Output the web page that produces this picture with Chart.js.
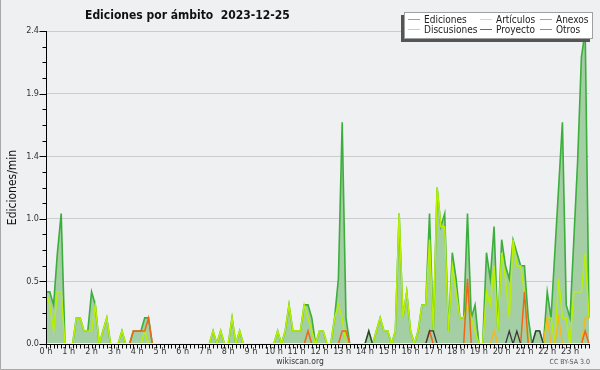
<!DOCTYPE html>
<html>
<head>
<meta charset="utf-8">
<script src="https://cdn.jsdelivr.net/npm/chart.js@4.4.1/dist/chart.umd.min.js"></script>
<style>
html,body{margin:0;padding:0;background:#eff0f2;}
canvas{display:block;}
</style>
</head>
<body>
<canvas id="c" width="600" height="370"></canvas>
<script>
const FONT = '"DejaVu Sans Condensed", "DejaVu Sans", sans-serif';
const chartTitle = 'Ediciones por ámbito  2023-12-25';
const yAxisTitle = 'Ediciones/min';
const sourceText = 'wikiscan.org';
const licenseText = 'CC BY-SA 3.0';

const times = [
'0:00','0:10','0:20','0:30','0:40','0:50','1:00','1:10','1:20','1:30','1:40','1:50',
'2:00','2:10','2:20','2:30','2:40','2:50','3:00','3:10','3:20','3:30','3:40','3:50',
'4:00','4:10','4:20','4:30','4:40','4:50','5:00','5:10','5:20','5:30','5:40','5:50',
'6:00','6:10','6:20','6:30','6:40','6:50','7:00','7:10','7:20','7:30','7:40','7:50',
'8:00','8:10','8:20','8:30','8:40','8:50','9:00','9:10','9:20','9:30','9:40','9:50',
'10:00','10:10','10:20','10:30','10:40','10:50','11:00','11:10','11:20','11:30','11:40','11:50',
'12:00','12:10','12:20','12:30','12:40','12:50','13:00','13:10','13:20','13:30','13:40','13:50',
'14:00','14:10','14:20','14:30','14:40','14:50','15:00','15:10','15:20','15:30','15:40','15:50',
'16:00','16:10','16:20','16:30','16:40','16:50','17:00','17:10','17:20','17:30','17:40','17:50',
'18:00','18:10','18:20','18:30','18:40','18:50','19:00','19:10','19:20','19:30','19:40','19:50',
'20:00','20:10','20:20','20:30','20:40','20:50','21:00','21:10','21:20','21:30','21:40','21:50',
'22:00','22:10','22:20','22:30','22:40','22:50','23:00','23:10','23:20','23:30','23:40','23:50'
];
const xTickLabels = ['0 h','1 h','2 h','3 h','4 h','5 h','6 h','7 h','8 h','9 h','10 h','11 h',
'12 h','13 h','14 h','15 h','16 h','17 h','18 h','19 h','20 h','21 h','22 h','23 h'];
const yTickValues = [0, 0.48, 0.96, 1.44, 1.92, 2.4];
const yTickLabels = ['0.0','0.5','1.0','1.4','1.9','2.4'];

const ediciones = [
0.4,0.4,0.3,0.7,1.0,0,0,0,0.2,0.2,0.1,0.1,
0.4,0.3,0,0.1,0.2,0,0,0,0.1,0,0,0.1,
0.1,0.1,0.2,0.2,0,0,0,0,0,0,0,0,
0,0,0,0,0,0,0,0,0.1,0,0.1,0,
0,0.2,0,0.1,0,0,0,0,0,0,0,0,
0,0.1,0,0.1,0.3,0.1,0.1,0.1,0.3,0.3,0.2,0,
0.1,0.1,0,0,0.2,0.5,1.7,0.2,0,0,0,0,
0,0.1,0,0.1,0.2,0.1,0.1,0,0.1,1.0,0.2,0.4,
0.1,0,0.1,0.3,0.3,1.0,0.1,1.2,0.9,1.0,0.1,0.7,
0.5,0.2,0.2,1.0,0.2,0.3,0,0,0.7,0.5,0.9,0.1,
0.8,0.6,0.5,0.8,0.7,0.6,0.6,0.2,0,0.1,0.1,0,
0.4,0.2,0.7,1.2,1.7,0.3,0.2,0.8,1.4,2.2,2.4,0.2
];
const articulos = [
0.4,0.3,0.1,0.4,0.4,0,0,0,0.2,0.2,0.1,0.1,
0.1,0.3,0,0.1,0.2,0,0,0,0.1,0,0,0,
0,0,0.1,0,0,0,0,0,0,0,0,0,
0,0,0,0,0,0,0,0,0.1,0,0.1,0,
0,0.2,0,0.1,0,0,0,0,0,0,0,0,
0,0.1,0,0.1,0.3,0.1,0.1,0.1,0.3,0.2,0.1,0,
0.1,0.1,0,0,0.2,0.3,0.2,0,0,0,0,0,
0,0,0,0.1,0.2,0.1,0.1,0,0.1,1.0,0.2,0.4,
0.1,0,0.1,0.3,0.3,0.8,0.1,1.2,0.9,0.9,0.1,0.6,
0.4,0.2,0.2,0.3,0.2,0.1,0,0,0.4,0.3,0.6,0.1,
0.7,0.5,0.2,0.8,0.6,0.6,0.4,0,0,0,0,0,
0.2,0.2,0,0.5,0.2,0.2,0,0.4,0.4,0.4,0.7,0.2
];
const anexos = [
0,0,0,0,0,0,0,0,0,0,0,0,
0,0,0,0,0,0,0,0,0,0,0,0.1,
0.1,0.1,0.1,0.2,0,0,0,0,0,0,0,0,
0,0,0,0,0,0,0,0,0,0,0,0,
0,0,0,0,0,0,0,0,0,0,0,0,
0,0,0,0,0,0,0,0,0,0.1,0,0,
0,0,0,0,0,0,0.1,0.1,0,0,0,0,
0,0,0,0,0,0,0,0,0,0,0,0,
0,0,0,0,0,0.1,0,0,0,0,0,0,
0,0,0,0.5,0,0,0,0,0,0,0,0,
0,0,0,0,0,0,0.4,0,0,0,0,0,
0,0,0,0,0,0,0,0,0,0,0.1,0
];
const discusiones = [
0,0,0,0,0,0,0,0,0,0,0,0,
0,0,0,0,0,0,0,0,0,0,0,0,
0,0,0,0,0,0,0,0,0,0,0,0,
0,0,0,0,0,0,0,0,0,0,0,0,
0,0,0,0,0,0,0,0,0,0,0,0,
0,0,0,0,0,0,0,0,0,0,0,0,
0,0,0,0,0,0,0,0,0,0,0,0,
0,0,0,0,0,0,0,0,0,0,0,0,
0,0,0,0,0,0,0,0,0,0,0,0,
0,0,0,0,0,0,0,0,0,0,0.1,0,
0,0,0,0,0,0,0,0,0,0,0,0,
0.2,0,0,0.2,0,0,0,0,0,0,0.2,0.2
];
const proyecto = [
0,0,0,0,0,0,0,0,0,0,0,0,
0,0,0,0,0,0,0,0,0,0,0,0,
0,0,0,0,0,0,0,0,0,0,0,0,
0,0,0,0,0,0,0,0,0,0,0,0,
0,0,0,0,0,0,0,0,0,0,0,0,
0,0,0,0,0,0,0,0,0,0,0,0,
0,0,0,0,0,0,0,0,0,0,0,0,
0,0.1,0,0,0,0,0,0,0,0,0,0,
0,0,0,0,0,0.1,0.1,0,0,0,0,0,
0,0,0,0,0,0,0,0,0,0,0,0,
0,0,0.1,0,0.1,0,0,0,0,0.1,0.1,0,
0,0,0,0,0,0,0,0,0,0,0,0
];
const otros = [
0,0,0,0,0,0,0,0,0,0,0,0,
0,0,0,0,0,0,0,0,0,0,0,0,
0,0,0,0,0,0,0,0,0,0,0,0,
0,0,0,0,0,0,0,0,0,0,0,0,
0,0,0,0,0,0,0,0,0,0,0,0,
0,0,0,0,0,0,0,0,0,0,0,0,
0,0,0,0,0,0,0,0,0,0,0,0,
0,0,0,0,0,0,0,0,0,0,0,0,
0,0,0,0,0,0,0,0,0,0,0,0,
0,0,0,0,0,0,0,0,0,0,0,0,
0,0,0,0,0,0,0,0,0,0,0,0,
0,0,0,0,0,0,0,0,0,0,0,0
];

Chart.defaults.font.family = FONT;

const bgPlugin = {
  id: 'bg',
  beforeDraw(chart) {
    const ctx = chart.ctx;
    ctx.save();
    ctx.fillStyle = '#eff0f2';
    ctx.fillRect(0, 0, chart.width, chart.height);
    ctx.strokeStyle = '#a8a8a8';
    ctx.lineWidth = 1;
    ctx.beginPath();
    ctx.moveTo(0.5, 0);
    ctx.lineTo(0.5, chart.height - 0.5);
    ctx.lineTo(chart.width, chart.height - 0.5);
    ctx.stroke();
    ctx.restore();
  }
};

const axesPlugin = {
  id: 'axes',
  afterDatasetsDraw(chart) {
    const {ctx, chartArea: a, scales: {x, y}} = chart;
    ctx.save();
    ctx.strokeStyle = '#000';
    ctx.lineWidth = 1;
    const L = Math.round(a.left) + 0.5;
    const B = Math.round(a.bottom) + 0.5;
    ctx.beginPath();
    ctx.moveTo(L, a.top);
    ctx.lineTo(L, B);
    ctx.lineTo(Math.round(a.right) + 1, B);
    for (let i = 0; i < chart.data.labels.length; i++) {
      const px = Math.round(x.getPixelForValue(i)) + 0.5;
      ctx.moveTo(px, B);
      ctx.lineTo(px, B + 4);
    }
    const yMax = yTickValues[yTickValues.length - 1];
    const minorStep = yTickValues[1] / 4;
    for (let k = 0; k * minorStep <= yMax + 1e-9; k++) {
      const py = Math.round(y.getPixelForValue(k * minorStep)) + 0.5;
      const len = (k % 4 === 0) ? 7 : 4;
      ctx.moveTo(L - len, py);
      ctx.lineTo(L, py);
    }
    ctx.stroke();
    ctx.restore();
  }
};

const textPlugin = {
  id: 'texts',
  afterDraw(chart) {
    const {ctx, chartArea: a} = chart;
    ctx.save();
    // title
    ctx.fillStyle = '#111';
    ctx.font = 'bold 12px ' + FONT;
    ctx.textAlign = 'left';
    ctx.textBaseline = 'alphabetic';
    ctx.fillText(chartTitle, 85, 18.5);
    // y title
    ctx.save();
    ctx.translate(16, (a.top + a.bottom) / 2);
    ctx.rotate(-Math.PI / 2);
    ctx.textAlign = 'center';
    ctx.textBaseline = 'alphabetic';
    ctx.font = '12px ' + FONT;
    ctx.fillStyle = '#111';
    ctx.fillText(yAxisTitle, 0, 0);
    ctx.restore();
    // source + license
    ctx.font = '8.5px ' + FONT;
    ctx.fillStyle = '#333';
    ctx.textAlign = 'center';
    ctx.fillText(sourceText, 300, 364);
    ctx.font = '7px ' + FONT;
    ctx.fillStyle = '#555';
    ctx.textAlign = 'right';
    ctx.fillText(licenseText, 590, 364);
    // legend
    const bx = 404, by = 12, bw = 189, bh = 27;
    ctx.fillStyle = '#555';
    ctx.fillRect(bx - 3, by + 3, bw, bh);
    ctx.fillStyle = '#ffffff';
    ctx.fillRect(bx, by, bw, bh);
    ctx.strokeStyle = '#a0a0a0';
    ctx.lineWidth = 1;
    ctx.strokeRect(bx + 0.5, by + 0.5, bw - 1, bh - 1);
    const colX = [408, 480, 540];
    const rowY = [19.5, 29.5];
    ctx.font = '10px ' + FONT;
    ctx.textAlign = 'left';
    ctx.textBaseline = 'middle';
    chart.data.datasets.forEach((ds, k) => {
      const cx = colX[k % 3], cy = rowY[Math.floor(k / 3)];
      ctx.globalAlpha = 0.75;
      ctx.strokeStyle = ds.borderColor;
      ctx.lineWidth = 1;
      ctx.beginPath();
      ctx.moveTo(cx, cy);
      ctx.lineTo(cx + 12, cy);
      ctx.stroke();
      ctx.globalAlpha = 1;
      ctx.fillStyle = '#222';
      ctx.fillText(ds.label, cx + 16, cy + 0.5);
    });
    ctx.restore();
  }
};

const lineClip = {left: 0, top: 3, right: 1, bottom: -1};

new Chart(document.getElementById('c'), {
  type: 'line',
  data: {
    labels: times,
    datasets: [
      {label: 'Ediciones', data: ediciones, borderColor: '#3cae3c', backgroundColor: '#a4cea4', fill: 'origin', borderWidth: 1.6, order: 10, clip: lineClip},
      {label: 'Artículos', data: articulos, borderColor: '#b8f000', fill: false, borderWidth: 1.5, order: 5, clip: lineClip},
      {label: 'Anexos', data: anexos, borderColor: '#f2661a', fill: false, borderWidth: 1.5, order: 3, clip: lineClip},
      {label: 'Discusiones', data: discusiones, borderColor: '#f7b81e', fill: false, borderWidth: 1.5, order: 4, clip: lineClip},
      {label: 'Proyecto', data: proyecto, borderColor: '#3a3a3a', fill: false, borderWidth: 1.3, order: 2, clip: lineClip},
      {label: 'Otros', data: otros, borderColor: '#9b30ff', fill: false, borderWidth: 1.5, order: 1, clip: lineClip}
    ]
  },
  options: {
    responsive: false,
    animation: false,
    devicePixelRatio: 1,
    events: [],
    elements: {point: {radius: 0}, line: {tension: 0}},
    layout: {padding: {left: 0, right: 11, top: 31, bottom: 0}},
    plugins: {legend: {display: false}, tooltip: {enabled: false}, title: {display: false}},
    scales: {
      x: {
        type: 'category',
        offset: false,
        grid: {display: false, drawTicks: false},
        border: {display: false},
        ticks: {
          autoSkip: false, maxRotation: 0, minRotation: 0, padding: 2,
          font: {size: 9, family: FONT}, color: '#333',
          callback: (v, i) => (i % 6 === 0 ? xTickLabels[i / 6] : '')
        },
        afterFit: s => { s.height = 26; }
      },
      y: {
        min: 0, max: 2.4,
        grid: {color: '#cccccc', drawTicks: false, lineWidth: 1},
        border: {display: false},
        ticks: {
          padding: 7, font: {size: 9, family: FONT}, color: '#333',
          callback: (v, i) => yTickLabels[i]
        },
        afterBuildTicks: s => { s.ticks = yTickValues.map(v => ({value: v})); },
        afterFit: s => { s.width = 46; }
      }
    }
  },
  plugins: [bgPlugin, axesPlugin, textPlugin]
});
</script>
</body>
</html>
